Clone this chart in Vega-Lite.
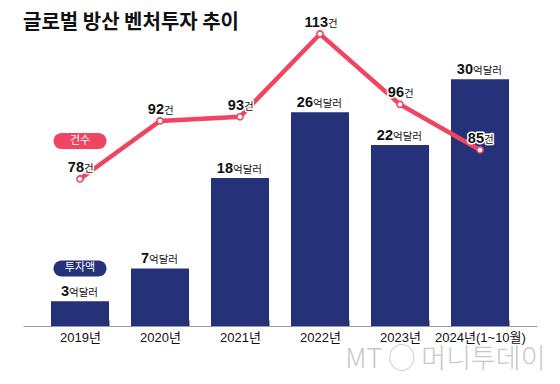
{
  "$schema": "https://vega.github.io/schema/vega-lite/v6.json",
  "autosize": {"type": "none"},
  "width": 514,
  "height": 292,
  "padding": {"left": 23, "top": 34, "right": 23, "bottom": 58},
  "background": "white",
  "config": {"view": {"stroke": null}},
  "title": {
    "text": "글로벌 방산 벤처투자 추이",
    "anchor": "start",
    "frame": "group",
    "orient": "top",
    "baseline": "alphabetic",
    "offset": -34,
    "font": "Noto Sans CJK KR",
    "fontSize": 20,
    "fontWeight": "bold",
    "letterSpacing": -1.2,
    "color": "#111111"
  },
  "data": {
    "values": [
      {"year": "2019년", "invest": 3, "count": 78},
      {"year": "2020년", "invest": 7, "count": 92},
      {"year": "2021년", "invest": 18, "count": 93},
      {"year": "2022년", "invest": 26, "count": 113},
      {"year": "2023년", "invest": 22, "count": 96},
      {"year": "2024년(1~10월)", "invest": 30, "count": 85}
    ]
  },
  "encoding": {
    "x": {
      "field": "year",
      "type": "nominal",
      "sort": null,
      "scale": {"paddingInner": 0.275, "paddingOuter": 0.35},
      "axis": {
        "title": "MT ◯ 머니투데이",
        "titleAnchor": "end",
        "titleX": 522,
        "titleAlign": "right",
        "titleFont": "Noto Sans CJK KR",
        "titleFontWeight": 200,
        "titleFontSize": 27,
        "titleColor": "#c8c8c8",
        "titlePadding": 2,
        "domainColor": "#9a9a9a",
        "tickColor": "#9a9a9a",
        "tickSize": -6,
        "tickBand": "extent",
        "labelPadding": 11,
        "labelAngle": 0,
        "labelFont": "Liberation Sans, Noto Sans CJK KR",
        "labelFontSize": 13,
        "labelColor": "#111111"
      }
    }
  },
  "layer": [
    {
      "mark": {"type": "bar", "color": "#253178"},
      "encoding": {
        "y": {"field": "invest", "type": "quantitative", "scale": {"domain": [0, 35.5], "nice": false}, "axis": null}
      }
    },
    {
      "mark": {"type": "line", "color": "#ef4560", "strokeWidth": 4.5},
      "encoding": {
        "y": {"field": "count", "type": "quantitative", "scale": {"domain": [42.5, 113], "nice": false, "zero": false}, "axis": null}
      }
    },
    {
      "mark": {"type": "point", "filled": true, "fill": "white", "stroke": "#ef4560", "strokeWidth": 1.6, "size": 38, "opacity": 1},
      "encoding": {
        "y": {"field": "count", "type": "quantitative", "scale": {"domain": [42.5, 113], "nice": false, "zero": false}, "axis": null}
      }
    },
    {
      "transform": [{"filter": "datum.invest < 10"}],
      "mark": {"type": "text", "align": "right", "baseline": "alphabetic", "dx": -11, "dy": -5, "font": "Liberation Sans", "fontWeight": "bold", "fontSize": 14.5, "color": "#111111"},
      "encoding": {
        "y": {"field": "invest", "type": "quantitative", "scale": {"domain": [0, 35.5], "nice": false}, "axis": null},
        "text": {"field": "invest"}
      }
    },
    {
      "transform": [{"filter": "datum.invest < 10"}],
      "mark": {"type": "text", "align": "left", "baseline": "alphabetic", "dx": -11, "dy": -5, "font": "Noto Sans CJK KR", "fontSize": 10.5, "color": "#111111", "text": "억달러"},
      "encoding": {
        "y": {"field": "invest", "type": "quantitative", "scale": {"domain": [0, 35.5], "nice": false}, "axis": null}
      }
    },
    {
      "transform": [{"filter": "datum.invest >= 10"}],
      "mark": {"type": "text", "align": "right", "baseline": "alphabetic", "dx": -7, "dy": -5, "font": "Liberation Sans", "fontWeight": "bold", "fontSize": 14.5, "color": "#111111"},
      "encoding": {
        "y": {"field": "invest", "type": "quantitative", "scale": {"domain": [0, 35.5], "nice": false}, "axis": null},
        "text": {"field": "invest"}
      }
    },
    {
      "transform": [{"filter": "datum.invest >= 10"}],
      "mark": {"type": "text", "align": "left", "baseline": "alphabetic", "dx": -7, "dy": -5, "font": "Noto Sans CJK KR", "fontSize": 10.5, "color": "#111111", "text": "억달러"},
      "encoding": {
        "y": {"field": "invest", "type": "quantitative", "scale": {"domain": [0, 35.5], "nice": false}, "axis": null}
      }
    },
    {
      "transform": [{"filter": "datum.count < 100"}],
      "mark": {"type": "text", "align": "right", "baseline": "alphabetic", "dx": 4, "dy": -7, "font": "Liberation Sans", "fontWeight": "bold", "fontSize": 14.5, "stroke": "white", "strokeWidth": 3, "strokeJoin": "round", "fill": "white"},
      "encoding": {
        "y": {"field": "count", "type": "quantitative", "scale": {"domain": [42.5, 113], "nice": false, "zero": false}, "axis": null},
        "text": {"field": "count"}
      }
    },
    {
      "transform": [{"filter": "datum.count < 100"}],
      "mark": {"type": "text", "align": "left", "baseline": "alphabetic", "dx": 4, "dy": -7, "font": "Noto Sans CJK KR", "fontSize": 10.5, "stroke": "white", "strokeWidth": 3, "strokeJoin": "round", "fill": "white", "text": "건"},
      "encoding": {
        "y": {"field": "count", "type": "quantitative", "scale": {"domain": [42.5, 113], "nice": false, "zero": false}, "axis": null}
      }
    },
    {
      "transform": [{"filter": "datum.count < 100"}],
      "mark": {"type": "text", "align": "right", "baseline": "alphabetic", "dx": 4, "dy": -7, "font": "Liberation Sans", "fontWeight": "bold", "fontSize": 14.5, "color": "#111111"},
      "encoding": {
        "y": {"field": "count", "type": "quantitative", "scale": {"domain": [42.5, 113], "nice": false, "zero": false}, "axis": null},
        "text": {"field": "count"}
      }
    },
    {
      "transform": [{"filter": "datum.count < 100"}],
      "mark": {"type": "text", "align": "left", "baseline": "alphabetic", "dx": 4, "dy": -7, "font": "Noto Sans CJK KR", "fontSize": 10.5, "color": "#111111", "text": "건"},
      "encoding": {
        "y": {"field": "count", "type": "quantitative", "scale": {"domain": [42.5, 113], "nice": false, "zero": false}, "axis": null}
      }
    },
    {
      "transform": [{"filter": "datum.count >= 100"}],
      "mark": {"type": "text", "align": "right", "baseline": "alphabetic", "dx": 8, "dy": -7, "font": "Liberation Sans", "fontWeight": "bold", "fontSize": 14.5, "color": "#111111"},
      "encoding": {
        "y": {"field": "count", "type": "quantitative", "scale": {"domain": [42.5, 113], "nice": false, "zero": false}, "axis": null},
        "text": {"field": "count"}
      }
    },
    {
      "transform": [{"filter": "datum.count >= 100"}],
      "mark": {"type": "text", "align": "left", "baseline": "alphabetic", "dx": 8, "dy": -7, "font": "Noto Sans CJK KR", "fontSize": 10.5, "color": "#111111", "text": "건"},
      "encoding": {
        "y": {"field": "count", "type": "quantitative", "scale": {"domain": [42.5, 113], "nice": false, "zero": false}, "axis": null}
      }
    },
    {
      "data": {
        "values": [
          {"year": "2019년", "pos": 22.5, "label": "건수", "kind": "count"},
          {"year": "2019년", "pos": 7, "label": "투자액", "kind": "invest"}
        ]
      },
      "mark": {"type": "point", "filled": true, "opacity": 1, "size": 2809, "shape": "M-0.698,-0.302 L0.698,-0.302 A0.302,0.302 0 0 1 0.698,0.302 L-0.698,0.302 A0.302,0.302 0 0 1 -0.698,-0.302 Z"},
      "encoding": {
        "y": {"field": "pos", "type": "quantitative", "scale": {"domain": [0, 35.5], "nice": false}, "axis": null},
        "color": {"field": "kind", "type": "nominal", "scale": {"domain": ["count", "invest"], "range": ["#ef4560", "#253178"]}, "legend": null}
      }
    },
    {
      "data": {
        "values": [
          {"year": "2019년", "pos": 22.5, "label": "건수", "kind": "count"},
          {"year": "2019년", "pos": 7, "label": "투자액", "kind": "invest"}
        ]
      },
      "mark": {"type": "text", "align": "center", "baseline": "middle", "font": "Noto Sans CJK KR", "fontSize": 11, "color": "white"},
      "encoding": {
        "y": {"field": "pos", "type": "quantitative", "scale": {"domain": [0, 35.5], "nice": false}, "axis": null},
        "text": {"field": "label"}
      }
    }
  ],
  "resolve": {"scale": {"y": "independent", "color": "independent"}}
}
